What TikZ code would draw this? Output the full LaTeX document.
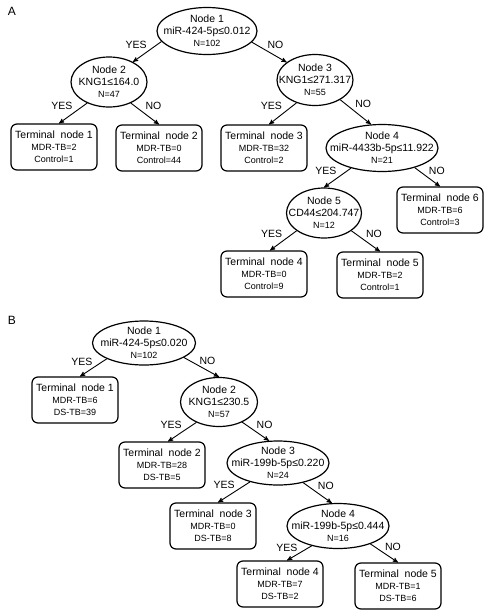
\documentclass[tikz,border=0pt]{standalone}
\usepackage{fontspec}
\setmainfont{Liberation Sans}
\usepackage{tikz}
\usetikzlibrary{positioning,arrows,shapes.geometric}
\newcommand{\detail}[1]{{\fontsize{9}{11}\selectfont #1}}
\tikzset{
  tree/.style={>=stealth',
    x=1pt,
    y=-1pt,
    on grid,
    font=\fontsize{10.5}{12}\selectfont},
  split/.style = {ellipse,draw,line width=1.2pt,inner xsep=-25pt,inner ysep=-8pt,align=center},
  leaf/.style = {rectangle,draw,line width=1.2pt,rounded corners=6pt,minimum width=86pt,minimum height=46pt,inner sep=0pt,align=center},
  branch/.style={->,line width=0.9pt},
  yes label/.style={left=10pt,pos=0.15,inner sep=0pt},
  no label/.style={right=10pt,pos=0.15,inner sep=0pt},
  panel/.style={font=\fontsize{12}{14}\selectfont}
}
\begin{document}
\begin{tikzpicture}[tree]
      \useasboundingbox (0,0) rectangle (488,614);
      % panel A
      \node[panel] (pa) at (12,11) {A};
      \node[split,minimum width=100pt,minimum height=47pt] (a1) at (207,31) {Node 1\\miR-424-5p≤0.012\\\detail{N=102}};
      \node[split,minimum width=76pt,minimum height=50pt] (a2) [below left=51pt and 98pt of a1] {Node 2\\KNG1≤164.0\\\detail{N=47}};
      \node[split,minimum width=76pt,minimum height=51pt] (a3) [below right=49pt and 108pt of a1] {Node 3\\KNG1≤271.317\\\detail{N=55}};
      \node[leaf] (at1) [below left=65pt and 55pt of a2] {Terminal\ \ node 1\\\detail{MDR-TB=2}\\\detail{Control=1}};
      \node[leaf] (at2) [below right=66pt and 50pt of a2] {Terminal\ \ node 2\\\detail{MDR-TB=0}\\\detail{Control=44}};
      \node[leaf] (at3) [below left=68pt and 51pt of a3] {Terminal\ \ node 3\\\detail{MDR-TB=32}\\\detail{Control=2}};
      \node[split,minimum width=112pt,minimum height=47pt] (a4) [below right=68pt and 67pt of a3] {Node 4\\miR-4433b-5p≤11.922\\\detail{N=21}};
      \node[split,minimum width=75pt,minimum height=50pt] (a5) [below left=65pt and 58pt of a4] {Node 5\\CD44≤204.747\\\detail{N=12}};
      \node[leaf] (at6) [below right=62pt and 58pt of a4] {Terminal\ \ node 6\\\detail{MDR-TB=6}\\\detail{Control=3}};
      \node[leaf] (at4) [below left=61pt and 60pt of a5] {Terminal\ \ node 4\\\detail{MDR-TB=0}\\\detail{Control=9}};
      \node[leaf] (at5) [below right=62pt and 56pt of a5] {Terminal\ \ node 5\\\detail{MDR-TB=2}\\\detail{Control=1}};
      \draw[branch] (a1.193) to node[yes label] {YES} (a2.40);
      \draw[branch] (a1.346) to node[no label] {NO} (a3.148);
      \draw[branch] (a2.224) to node[yes label] {YES} ([xshift=5pt]at1.north);
      \draw[branch] (a2.316) to node[no label] {NO} (at2.north);
      \draw[branch] (a3.231) to node[yes label] {YES} ([xshift=5pt]at3.north);
      \draw[branch] (a3.322) to node[no label] {NO} (a4.115);
      \draw[branch] (a4.213) to node[yes label] {YES} (a5.north);
      \draw[branch] (a4.329) to node[no label] {NO} (at6.north);
      \draw[branch] (a5.213) to node[yes label] {YES} ([xshift=6pt]at4.north);
      \draw[branch] (a5.327) to node[no label] {NO} (at5.north);
      % panel B
      \node[panel] (pb) at (12,320) {B};
      \node[split,minimum width=103pt,minimum height=44pt] (b1) at (144,343) {Node 1\\miR-424-5p≤0.020\\\detail{N=102}};
      \node[leaf] (bt1) [below left=57pt and 69pt of b1] {Terminal\ \ node 1\\\detail{MDR-TB=6}\\\detail{DS-TB=39}};
      \node[split,minimum width=77pt,minimum height=49pt] (b2) [below right=59pt and 75pt of b1] {Node 2\\KNG1≤230.5\\\detail{N=57}};
      \node[leaf] (bt2) [below left=63pt and 57pt of b2] {Terminal\ \ node 2\\\detail{MDR-TB=28}\\\detail{DS-TB=5}};
      \node[split,minimum width=102pt,minimum height=44pt] (b3) [below right=61pt and 59pt of b2] {Node 3\\miR-199b-5p≤0.220\\\detail{N=24}};
      \node[leaf] (bt3) [below left=63pt and 65pt of b3] {Terminal\ \ node 3\\\detail{MDR-TB=0}\\\detail{DS-TB=8}};
      \node[split,minimum width=102pt,minimum height=45pt] (b4) [below right=63pt and 60pt of b3] {Node 4\\miR-199b-5p≤0.444\\\detail{N=16}};
      \node[leaf] (bt4) [below left=58pt and 58pt of b4] {Terminal\ \ node 4\\\detail{MDR-TB=7}\\\detail{DS-TB=2}};
      \node[leaf] (bt5) [below right=60pt and 60pt of b4] {Terminal\ \ node 5\\\detail{MDR-TB=1}\\\detail{DS-TB=6}};
      \draw[branch] (b1.203) to node[yes label] {YES} ([xshift=5pt]bt1.north);
      \draw[branch] (b1.340) to node[no label] {NO} (b2.north);
      \draw[branch] (b2.222) to node[yes label] {YES} ([xshift=6pt]bt2.north);
      \draw[branch] (b2.319) to node[no label] {NO} (b3.112);
      \draw[branch] (b3.214) to node[yes label] {YES} ([xshift=5pt]bt3.north);
      \draw[branch] (b3.322) to node[no label] {NO} (b4.105);
      \draw[branch] (b4.217) to node[yes label] {YES} ([xshift=7pt]bt4.north);
      \draw[branch] (b4.331) to node[no label] {NO} (bt5.north);
\end{tikzpicture}
\end{document}
